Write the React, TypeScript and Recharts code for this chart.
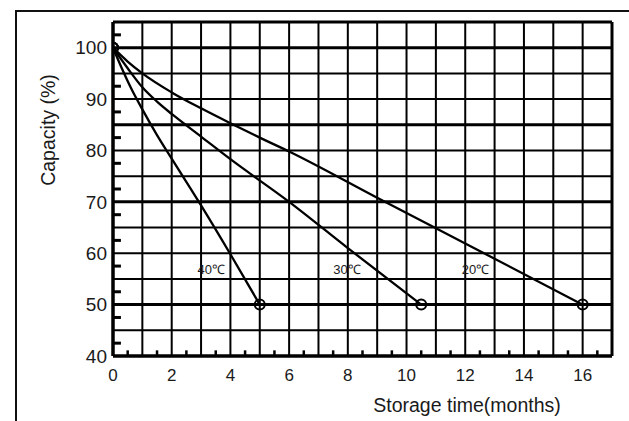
import React from "react";
import {
  LineChart,
  Line,
  XAxis,
  YAxis,
  ReferenceLine,
  ReferenceDot,
} from "recharts";

// storage curves
const months40 = [0, 0.3, 0.6, 1, 1.5, 2, 3, 4, 5];
const capacity40 = [100, 96, 92.3, 88, 83, 78.4, 69.3, 59.8, 50];

const months30 = [0, 0.5, 1, 1.5, 2, 3, 4, 6, 8, 10.5];
const capacity30 = [100, 96, 92.3, 89.5, 87.1, 82.7, 78.3, 70, 61, 50];

const months20 = [0, 0.5, 1, 2, 3, 4, 5, 6, 9, 12, 16];
const capacity20 = [100, 97.3, 95, 91.3, 88.2, 85.3, 82.5, 79.8, 70.8, 61.9, 50];

const tempLabels = ["40℃", "30℃", "20℃"];
const tempLabelX = [3.35, 7.97, 12.35];
const tempLabelY = [56.9, 56.9, 56.9];

const xTicks = [0, 2, 4, 6, 8, 10, 12, 14, 16];
const yTicks = [40, 50, 60, 70, 80, 90, 100];
const xGrid = [1, 2, 3, 4, 5, 6, 7, 8, 9, 10, 11, 12, 13, 14, 15, 16];
const yGrid = [45, 50, 55, 60, 65, 70, 75, 80, 85, 90, 95, 100];
const yGridHeavy = [50, 70, 85, 100];
const xMinor = [0.5, 1.5, 2.5, 3.5, 4.5, 5.5, 6.5, 7.5, 8.5, 9.5, 10.5, 11.5, 12.5, 13.5, 14.5, 15.5, 16.5];
const yMinor = [42.5, 47.5, 52.5, 57.5, 62.5, 67.5, 72.5, 77.5, 82.5, 87.5, 92.5, 102.5];

const toPoints = (xs: number[], ys: number[]) => xs.map((x, i) => ({ x, y: ys[i] }));

const FONT = "'Liberation Sans', Arial, sans-serif";

function endDot(count: number) {
  return (props: any) => {
    const { cx, cy, index } = props;
    if (index !== 0 && index !== count - 1) return <g key={`d${index}`} />;
    return (
      <circle key={`d${index}`} cx={cx} cy={cy} r={5} fill="none" stroke="#000" strokeWidth={2} />
    );
  };
}

export default function App() {
  const series = [
    { key: "40", xs: months40, ys: capacity40 },
    { key: "30", xs: months30, ys: capacity30 },
    { key: "20", xs: months20, ys: capacity20 },
  ];

  return (
    <div
      style={{
        position: "absolute",
        left: 0,
        top: 0,
        width: 629,
        height: 421,
        overflow: "hidden",
        background: "#fff",
      }}
    >
      <div
        style={{
          position: "absolute",
          left: 15,
          top: 10,
          width: 800,
          height: 600,
          borderLeft: "2.5px solid #111",
          borderTop: "2.5px solid #111",
        }}
      />
      <LineChart
        width={629}
        height={421}
        margin={{ top: 22, right: 17, left: 53, bottom: 35 }}
        style={{ position: "absolute", left: 0, top: 0, fontFamily: FONT }}
      >
        <XAxis
          dataKey="x"
          type="number"
          domain={[0, 17]}
          ticks={xTicks}
          allowDataOverflow
          tickLine={false}
          axisLine={false}
          tickSize={8}
          tickMargin={5}
          height={30}
          tick={{ fontSize: 17, fill: "#1a1a1a", fontFamily: FONT }}
          label={{
            content: () => (
              <text x={467} y={412} textAnchor="middle" fontSize={19.5} fill="#1a1a1a" fontFamily={FONT}>
                Storage time(months)
              </text>
            ),
          }}
        />
        <YAxis
          type="number"
          domain={[40, 105]}
          ticks={yTicks}
          allowDataOverflow
          tickLine={false}
          axisLine={false}
          tickSize={4}
          tickMargin={2}
          width={60}
          tick={{ fontSize: 19, fill: "#1a1a1a", fontFamily: FONT }}
          label={{
            content: () => (
              <text
                x={55}
                y={130}
                transform="rotate(-90 55 130)"
                textAnchor="middle"
                fontSize={19.5}
                fill="#1a1a1a"
                fontFamily={FONT}
              >
                Capacity (%)
              </text>
            ),
          }}
        />

        {xGrid.map((v) => (
          <ReferenceLine key={`vx${v}`} x={v} stroke="#000" strokeWidth={2} />
        ))}
        {yGrid.map((v) => (
          <ReferenceLine
            key={`hy${v}`}
            y={v}
            stroke="#000"
            strokeWidth={yGridHeavy.includes(v) ? 3 : 2}
          />
        ))}
        {/* short inner ticks on the left and bottom edges */}
        {yMinor.map((v) => (
          <ReferenceLine
            key={`my${v}`}
            segment={[{ x: 0, y: v }, { x: 0.27, y: v }]}
            stroke="#000"
            strokeWidth={3}
          />
        ))}
        {xMinor.map((v) => (
          <ReferenceLine
            key={`mx${v}`}
            segment={[{ x: v, y: 40 }, { x: v, y: 41.1 }]}
            stroke="#000"
            strokeWidth={2.5}
          />
        ))}
        <ReferenceLine x={0} stroke="#000" strokeWidth={3.5} />
        <ReferenceLine x={17} stroke="#000" strokeWidth={3} />
        <ReferenceLine y={40} stroke="#000" strokeWidth={3.5} />
        <ReferenceLine y={105} stroke="#000" strokeWidth={3} />

        {series.map((s) => (
          <Line
            key={s.key}
            data={toPoints(s.xs, s.ys)}
            dataKey="y"
            type="monotone"
            stroke="#000"
            strokeWidth={2.3}
            dot={endDot(s.xs.length)}
            activeDot={false}
            isAnimationActive={false}
          />
        ))}

        {tempLabels.map((t, i) => (
          <ReferenceDot
            key={t}
            x={tempLabelX[i]}
            y={tempLabelY[i]}
            r={0}
            stroke="none"
            label={{ value: t, position: "center", fontSize: 13, fill: "#1a1a1a", fontFamily: FONT }}
          />
        ))}
      </LineChart>
    </div>
  );
}
